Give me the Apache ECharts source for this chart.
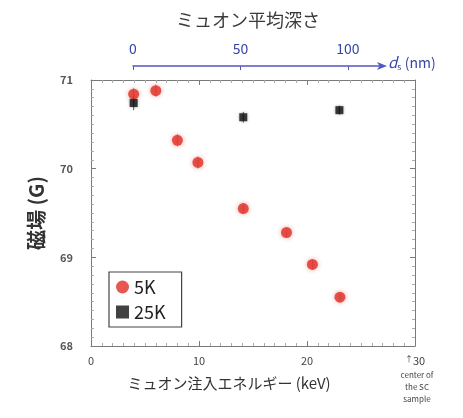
<!DOCTYPE html>
<html><head><meta charset="utf-8">
<script src="https://cdn.jsdelivr.net/npm/echarts@6/dist/echarts.min.js"></script>
<style>html,body{margin:0;padding:0;background:#fff}#c{width:463px;height:418px}</style>
</head><body><div id="c"></div>
<script>
// Data (keV, Gauss)
const energy5K = [3.95, 6.0, 8.0, 9.9, 14.1, 18.1, 20.5, 23.05];
const field5K  = [70.84, 70.88, 70.32, 70.07, 69.55, 69.28, 68.92, 68.55];
const err5K    = [0.07, 0.07, 0.07, 0.07, 0.05, 0.05, 0.05, 0.05];
const energy25K = [3.95, 14.1, 23.0];
const field25K  = [70.74, 70.58, 70.66];
const err25K    = [0.08, 0.06, 0.05];
const xTicks = [0, 10, 20, 30];
const yTicks = [68, 69, 70, 71];
const depthTicks = [0, 50, 100];

const FONT = '"Noto Sans CJK JP", "Noto Sans", sans-serif';
const frame = '#7a7a7a';

const pts5 = energy5K.map((e,i)=>[e, field5K[i], err5K[i]]);
const pts25 = energy25K.map((e,i)=>[e, field25K[i], err25K[i]]);

function errBar(color){
  return function(params, api){
    const x = api.value(0), y = api.value(1), d = api.value(2);
    const p1 = api.coord([x, y + d]), p2 = api.coord([x, y - d]);
    return {type:'line', shape:{x1:p1[0], y1:p1[1], x2:p2[0], y2:p2[1]},
      style:{stroke:color, lineWidth:1}};
  };
}

const chart = echarts.init(document.getElementById('c'), null, {renderer:'canvas'});
const axisCommon = {
  min: 0, max: 30, interval: 10,
  axisLine:{show:true, onZero:false, lineStyle:{color:frame, width:1}},
  axisTick:{show:true, inside:true, length:5, lineStyle:{color:frame}},
  minorTick:{show:true, splitNumber:10, length:3, lineStyle:{color:'#aaa'}},
  splitLine:{show:false}
};
const yCommon = {
  min: 68, max: 71, interval: 1,
  axisLine:{show:true, onZero:false, lineStyle:{color:frame, width:1}},
  axisTick:{show:true, inside:true, length:5, lineStyle:{color:frame}},
  minorTick:{show:true, splitNumber:10, length:3, lineStyle:{color:'#aaa'}},
  splitLine:{show:false}
};

chart.setOption({
  animation:false,
  title:{text:'ミュオン平均深さ', left:243, top:6, textAlign:'center',
    textStyle:{fontFamily:FONT, fontSize:18, fontWeight:'normal', color:'#3a3a3a'}},
  grid:[
    {left:91, right:48, top:80, bottom:72},
    {left:133, right:80, top:66, height:0}
  ],
  xAxis:[
    Object.assign({}, axisCommon, {gridIndex:0, position:'bottom',
      axisLabel:{show:true, margin:9, fontFamily:FONT, fontSize:11, color:'#444',
        customValues: xTicks,
        formatter: v => v === 30 ? '{a|↑}30' : String(v),
        rich:{a:{fontSize:8, color:'#444', verticalAlign:'top'}}}}),
    Object.assign({}, axisCommon, {gridIndex:0, position:'top', axisLabel:{show:false}}),
    {gridIndex:1, type:'value', position:'top', min:0, max:116.3,
      axisLine:{show:true, onZero:false, lineStyle:{color:'#5558c0', width:1.5},
        symbol:['none','arrow'], symbolSize:[6,10], symbolOffset:[0,4]},
      axisTick:{show:true, inside:true, length:4, lineStyle:{color:'#5558c0'}, customValues: depthTicks},
      axisLabel:{show:true, margin:10, fontFamily:FONT, fontSize:14, color:'#3545a8', customValues: depthTicks},
      splitLine:{show:false}}
  ],
  yAxis:[
    Object.assign({}, yCommon, {gridIndex:0, position:'left',
      name:'磁場 (G)', nameLocation:'middle', nameGap:45, nameRotate:90,
      nameTextStyle:{fontFamily:FONT, fontSize:20, fontWeight:'bold', color:'#333'},
      axisLabel:{show:true, margin:18, fontFamily:FONT, fontSize:11, fontWeight:'bold', color:'#555'}}),
    Object.assign({}, yCommon, {gridIndex:0, position:'right', axisLabel:{show:false}}),
    {gridIndex:1, type:'value', show:false, min:0, max:1}
  ],
  legend:{
    orient:'vertical', left:109, top:272,
    data:[{name:'5K', icon:'circle'}, {name:'25K', icon:'rect'}],
    itemWidth:13, itemHeight:13, itemGap:7,
    padding:[6,16,6,7],
    borderColor:'#444', borderWidth:1.2, backgroundColor:'#fff',
    textStyle:{fontFamily:FONT, fontSize:18, color:'#222'}
  },
  graphic:[
    {type:'text', left:388, top:55, style:{
      text:'{d|d}{s|s} {n|(nm)}',
      rich:{d:{fontFamily:FONT, fontStyle:'italic', fontSize:15, fill:'#3545a8'},
            s:{fontFamily:FONT, fontSize:9, fill:'#3545a8', padding:[8,0,0,0]},
            n:{fontFamily:FONT, fontSize:14, fill:'#3545a8'}}}},
    {type:'text', x:229, y:376, style:{text:'ミュオン注入エネルギー (keV)', align:'center',
      fontFamily:FONT, fontSize:15, fill:'#333'}},
    {type:'text', x:417, y:369, style:{text:'center of\nthe SC\nsample', align:'center',
      fontFamily:FONT, fontSize:8, lineHeight:12, fill:'#444'}}
  ],
  series:[
    {type:'custom', name:'e5', xAxisIndex:0, yAxisIndex:0, renderItem:errBar('#d88'), data:pts5, z:1, silent:true},
    {type:'custom', name:'e25', xAxisIndex:0, yAxisIndex:0, renderItem:errBar('#555'), data:pts25, z:1, silent:true},
    {type:'scatter', name:'5K', xAxisIndex:0, yAxisIndex:0, symbol:'circle', symbolSize:11,
      itemStyle:{color:'#df2f26', shadowBlur:5, shadowColor:'rgba(230,80,80,0.6)'}, data:pts5, z:3},
    {type:'scatter', name:'25K', xAxisIndex:0, yAxisIndex:0, symbol:'rect', symbolSize:8,
      itemStyle:{color:'#111', shadowBlur:3, shadowColor:'rgba(0,0,0,0.4)'}, data:pts25, z:4}
  ]
});
</script></body></html>
